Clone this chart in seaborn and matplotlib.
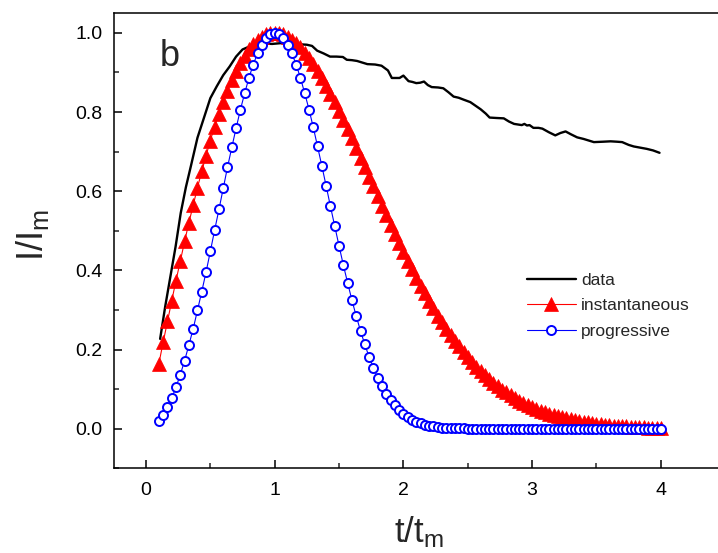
import matplotlib
matplotlib.use('Agg')
import matplotlib.pyplot as plt
import seaborn as sns
from matplotlib.ticker import MultipleLocator

# measured curve
data_t = [0.11, 0.15, 0.19, 0.23, 0.27, 0.31, 0.35, 0.40, 0.45, 0.50, 0.55, 0.60,
          0.65, 0.70, 0.75, 0.80, 0.86, 0.92, 0.98, 1.05, 1.12, 1.20, 1.25, 1.29,
          1.33, 1.38, 1.43, 1.48, 1.53, 1.56, 1.60, 1.64, 1.68, 1.72, 1.78, 1.83,
          1.88, 1.91, 1.95, 1.97, 2.00, 2.04, 2.07, 2.10, 2.13, 2.16, 2.19, 2.22,
          2.27, 2.31, 2.35, 2.39, 2.43, 2.47, 2.52, 2.56, 2.60, 2.64, 2.67, 2.72,
          2.78, 2.82, 2.86, 2.92, 2.94, 2.96, 2.98, 3.01, 3.05, 3.08, 3.13, 3.18,
          3.22, 3.26, 3.30, 3.35, 3.40, 3.48, 3.55, 3.61, 3.66, 3.70, 3.75, 3.79,
          3.84, 3.89, 3.94, 3.99]
data_i = [0.227, 0.310, 0.385, 0.460, 0.545, 0.610, 0.665, 0.735, 0.785, 0.835, 0.865, 0.893,
          0.915, 0.940, 0.958, 0.965, 0.972, 0.973, 0.972, 0.974, 0.972, 0.971, 0.970, 0.967,
          0.955, 0.948, 0.940, 0.940, 0.939, 0.932, 0.931, 0.929, 0.925, 0.921, 0.920, 0.917,
          0.905, 0.886, 0.886, 0.886, 0.892, 0.878, 0.876, 0.873, 0.874, 0.877, 0.868, 0.863,
          0.862, 0.860, 0.850, 0.839, 0.836, 0.831, 0.825, 0.816, 0.807, 0.796, 0.786, 0.785,
          0.784, 0.776, 0.770, 0.767, 0.770, 0.766, 0.767, 0.760, 0.760, 0.758, 0.749, 0.741,
          0.747, 0.751, 0.744, 0.736, 0.732, 0.724, 0.725, 0.726, 0.725, 0.724, 0.717, 0.713,
          0.710, 0.707, 0.703, 0.697]

# model curves
t_model = [0.100, 0.133, 0.167, 0.200, 0.233, 0.267, 0.300, 0.333, 0.367, 0.400,
           0.433, 0.467, 0.500, 0.533, 0.567, 0.600, 0.633, 0.667, 0.700, 0.733,
           0.767, 0.800, 0.833, 0.867, 0.900, 0.933, 0.967, 1.000, 1.033, 1.067,
           1.100, 1.133, 1.167, 1.200, 1.233, 1.267, 1.300, 1.333, 1.367, 1.400,
           1.433, 1.467, 1.500, 1.533, 1.567, 1.600, 1.633, 1.667, 1.700, 1.733,
           1.767, 1.800, 1.833, 1.867, 1.900, 1.933, 1.967, 2.000, 2.033, 2.067,
           2.100, 2.133, 2.167, 2.200, 2.233, 2.267, 2.300, 2.333, 2.367, 2.400,
           2.433, 2.467, 2.500, 2.533, 2.567, 2.600, 2.633, 2.667, 2.700, 2.733,
           2.767, 2.800, 2.833, 2.867, 2.900, 2.933, 2.967, 3.000, 3.033, 3.067,
           3.100, 3.133, 3.167, 3.200, 3.233, 3.267, 3.300, 3.333, 3.367, 3.400,
           3.433, 3.467, 3.500, 3.533, 3.567, 3.600, 3.633, 3.667, 3.700, 3.733,
           3.767, 3.800, 3.833, 3.867, 3.900, 3.933, 3.967, 4.000]
inst = [0.164, 0.218, 0.271, 0.323, 0.374, 0.424, 0.473, 0.520, 0.565, 0.609,
        0.650, 0.690, 0.728, 0.763, 0.796, 0.826, 0.854, 0.880, 0.903, 0.924,
        0.942, 0.958, 0.971, 0.982, 0.990, 0.996, 0.999, 1.000, 0.999, 0.996,
        0.990, 0.983, 0.974, 0.963, 0.950, 0.936, 0.921, 0.904, 0.886, 0.866,
        0.846, 0.825, 0.803, 0.780, 0.757, 0.734, 0.709, 0.685, 0.661, 0.636,
        0.612, 0.587, 0.563, 0.539, 0.515, 0.492, 0.469, 0.446, 0.424, 0.403,
        0.382, 0.361, 0.342, 0.323, 0.304, 0.286, 0.269, 0.253, 0.237, 0.222,
        0.208, 0.194, 0.181, 0.169, 0.157, 0.146, 0.136, 0.126, 0.116, 0.108,
        0.099, 0.092, 0.084, 0.078, 0.071, 0.066, 0.060, 0.055, 0.050, 0.046,
        0.042, 0.038, 0.035, 0.032, 0.029, 0.026, 0.024, 0.021, 0.019, 0.017,
        0.016, 0.014, 0.013, 0.011, 0.010, 0.009, 0.008, 0.007, 0.007, 0.006,
        0.005, 0.005, 0.004, 0.004, 0.003, 0.003, 0.003, 0.002]
prog = [0.020, 0.035, 0.054, 0.077, 0.105, 0.137, 0.172, 0.211, 0.253, 0.299,
        0.346, 0.396, 0.448, 0.501, 0.554, 0.607, 0.660, 0.711, 0.759, 0.805,
        0.848, 0.886, 0.920, 0.948, 0.970, 0.987, 0.997, 1.000, 0.997, 0.987,
        0.970, 0.948, 0.920, 0.886, 0.848, 0.806, 0.761, 0.713, 0.663, 0.613,
        0.562, 0.511, 0.462, 0.414, 0.368, 0.325, 0.285, 0.247, 0.213, 0.182,
        0.154, 0.129, 0.108, 0.089, 0.073, 0.059, 0.047, 0.038, 0.030, 0.023,
        0.018, 0.014, 0.010, 0.008, 0.006, 0.004, 0.003, 0.002, 0.002, 0.001,
        0.001, 0.001, 0.000, 0.000, 0.000, 0.000, 0.000, 0.000, 0.000, 0.000,
        0.000, 0.000, 0.000, 0.000, 0.000, 0.000, 0.000, 0.000, 0.000, 0.000,
        0.000, 0.000, 0.000, 0.000, 0.000, 0.000, 0.000, 0.000, 0.000, 0.000,
        0.000, 0.000, 0.000, 0.000, 0.000, 0.000, 0.000, 0.000, 0.000, 0.000,
        0.000, 0.000, 0.000, 0.000, 0.000, 0.000, 0.000, 0.000]

sns.set_style('ticks')
plt.rcParams['font.family'] = ['Liberation Sans', 'DejaVu Sans']

fig = plt.figure(figsize=(7.18, 5.53), dpi=100)
# axes run past the right edge of the figure, like the cropped original
ax = fig.add_axes([0.1585, 0.1531, 0.8963, 0.8233])

sns.lineplot(x=data_t, y=data_i, color='black', lw=1.7, estimator=None,
             label='data', ax=ax)
sns.lineplot(x=t_model, y=inst, color='red', lw=0.8, estimator=None,
             marker='^', markersize=9.5, markeredgecolor='red', markerfacecolor='red',
             markeredgewidth=0.5, label='instantaneous', ax=ax)
sns.lineplot(x=t_model, y=prog, color='blue', lw=0.8, estimator=None,
             marker='o', markersize=6.5, markeredgecolor='blue', markerfacecolor='white',
             markeredgewidth=1.4, label='progressive', ax=ax)

ax.set_xlim(-0.25, 4.75)
ax.set_ylim(-0.1, 1.05)
ax.xaxis.set_major_locator(MultipleLocator(1))
ax.xaxis.set_minor_locator(MultipleLocator(0.5))
ax.yaxis.set_major_locator(MultipleLocator(0.2))
ax.yaxis.set_minor_locator(MultipleLocator(0.1))
ax.yaxis.set_major_formatter(matplotlib.ticker.FormatStrFormatter('%.1f'))
ax.tick_params(which='major', direction='in', length=6, width=1.1, labelsize=14,
               pad=10, top=False, right=False, colors='black')
ax.tick_params(axis='y', which='major', pad=8)
ax.tick_params(which='minor', direction='in', length=3.5, width=1.1,
               top=False, right=False)
for s in ax.spines.values():
    s.set_linewidth(1.1)
    s.set_color('black')

ax.set_xlabel(r'$\mathregular{t/t_m}$', fontsize=25)
ax.set_ylabel(r'$\mathregular{I/I_m}$', fontsize=26)
ax.xaxis.set_label_coords(0.474, -0.1)
ax.yaxis.set_label_coords(-0.098, 0.513)

ax.text(0.11, 0.917, 'b', fontsize=26)

ax.legend(loc='upper left', bbox_to_anchor=(0.642, 0.43), frameon=False,
          fontsize=12.5, handlelength=2.8, handletextpad=0.3, labelspacing=0.6,
          borderpad=0, borderaxespad=0)

fig.savefig('out.png', dpi=100)
